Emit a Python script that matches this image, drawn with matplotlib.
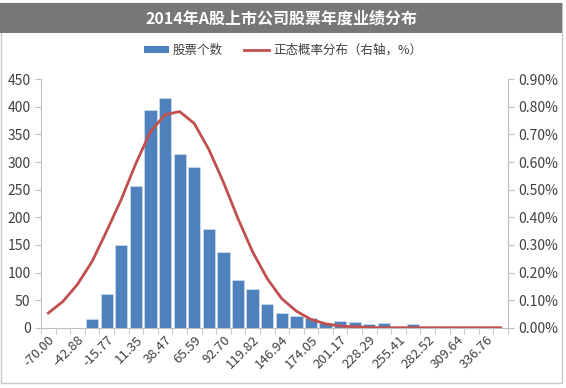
import numpy as np
import matplotlib
matplotlib.use("Agg")
import matplotlib.pyplot as plt
from matplotlib.patches import Rectangle, Patch
from matplotlib.lines import Line2D

plt.rcParams['font.family'] = ['Noto Sans CJK SC', 'DejaVu Sans']

# 分组下限（每组宽度约13.56）
bins = ["-70.00", "-56.44", "-42.88", "-29.33", "-15.77", "-2.21", "11.35", "24.91",
        "38.47", "52.03", "65.59", "79.15", "92.70", "106.26", "119.82", "133.38",
        "146.94", "160.50", "174.05", "187.61", "201.17", "214.73", "228.29", "241.85",
        "255.41", "268.97", "282.52", "296.08", "309.64", "323.20", "336.76", "350.32"]
# 股票个数
counts = [0, 0, 0, 16, 61, 149, 256, 394, 416, 315, 291, 178, 137, 86, 70, 43,
          27, 22, 18, 8, 12, 10, 7, 8, 0, 7, 0, 0, 0, 0, 0, 0]
# 正态概率分布（%）
normal_pct = [0.053, 0.095, 0.157, 0.240, 0.350, 0.465, 0.595, 0.710, 0.772, 0.783,
              0.740, 0.646, 0.527, 0.395, 0.275, 0.178, 0.105, 0.060, 0.030, 0.014,
              0.006, 0.003, 0.001, 0.0, 0.0, 0.0, 0.0, 0.0, 0.0, 0.0, 0.0, 0.0]

bar_color = '#4F81BD'
line_color = '#C0504D'
axis_color = '#BFBFBF'
text_color = '#404040'

W, H = 566, 388
fig = plt.figure(figsize=(W / 100, H / 100), dpi=100)

# 外框和标题栏
fig.patches.append(Rectangle((0.5 / W, 1 - 383 / H), 561.5 / W, 380 / H,
                             transform=fig.transFigure, facecolor='none',
                             edgecolor='#C8C8C8', linewidth=1, zorder=0))
fig.patches.append(Rectangle((0, 1 - 33 / H), 562 / W, 30 / H,
                             transform=fig.transFigure, facecolor='#777777',
                             edgecolor='none', zorder=1))
fig.text(282 / W, 1 - 18.5 / H, "2014年A股上市公司股票年度业绩分布", color='white',
         fontsize=11.5, fontweight='bold', ha='center', va='center')

ax = fig.add_axes([41 / W, 1 - 327.7 / H, 467 / W, 248.4 / H])
ax.set_zorder(2)
ax.patch.set_alpha(0)
x = np.arange(len(bins))
ax.bar(x, counts, width=0.84, color=bar_color, edgecolor='#DCE6F2', linewidth=0.4, zorder=2)
ax.set_xlim(-0.5, len(bins) - 0.5)
ax.set_ylim(0, 450)
ax.set_yticks(range(0, 451, 50))

ax2 = ax.twinx()
ax2.set_zorder(3)
ax2.patch.set_alpha(0)
ax2.plot(x, normal_pct, color=line_color, linewidth=2, zorder=3)
ax2.set_ylim(0, 0.9)
ax2.set_yticks(np.arange(0, 0.91, 0.1))
ax2.set_yticklabels([f"{v:.2f}%" for v in np.arange(0, 0.91, 0.1)])

for a in (ax, ax2):
    a.spines['top'].set_visible(False)
    a.tick_params(axis='y', colors=axis_color, labelcolor=text_color, labelsize=10, length=4)
ax.spines['right'].set_visible(False)
ax.spines['left'].set_color(axis_color)
ax.spines['bottom'].set_color(axis_color)
ax2.spines['left'].set_visible(False)
ax2.spines['bottom'].set_visible(False)
ax2.spines['right'].set_color(axis_color)

ax.set_xticks(x[::2])
ax.set_xticklabels(bins[::2], rotation=45, ha='right', va='top', rotation_mode='anchor')
ax.set_xticks(np.arange(-0.5, len(bins)), minor=True)
ax.tick_params(axis='x', which='major', length=0, labelsize=9.5, labelcolor=text_color, pad=4)
ax.tick_params(axis='x', which='minor', length=4, color=axis_color)

handles = [Patch(facecolor=bar_color, edgecolor='none'),
           Line2D([], [], color=line_color, linewidth=2)]
fig.legend(handles, ["股票个数", "正态概率分布（右轴，%）"], loc='center',
           bbox_to_anchor=(283 / W, 1 - 50 / H), ncol=2, frameon=False, fontsize=9,
           handlelength=2.0, handleheight=0.5, columnspacing=1.7, handletextpad=0.3,
           labelcolor=text_color)

fig.savefig("out.png", dpi=100)
